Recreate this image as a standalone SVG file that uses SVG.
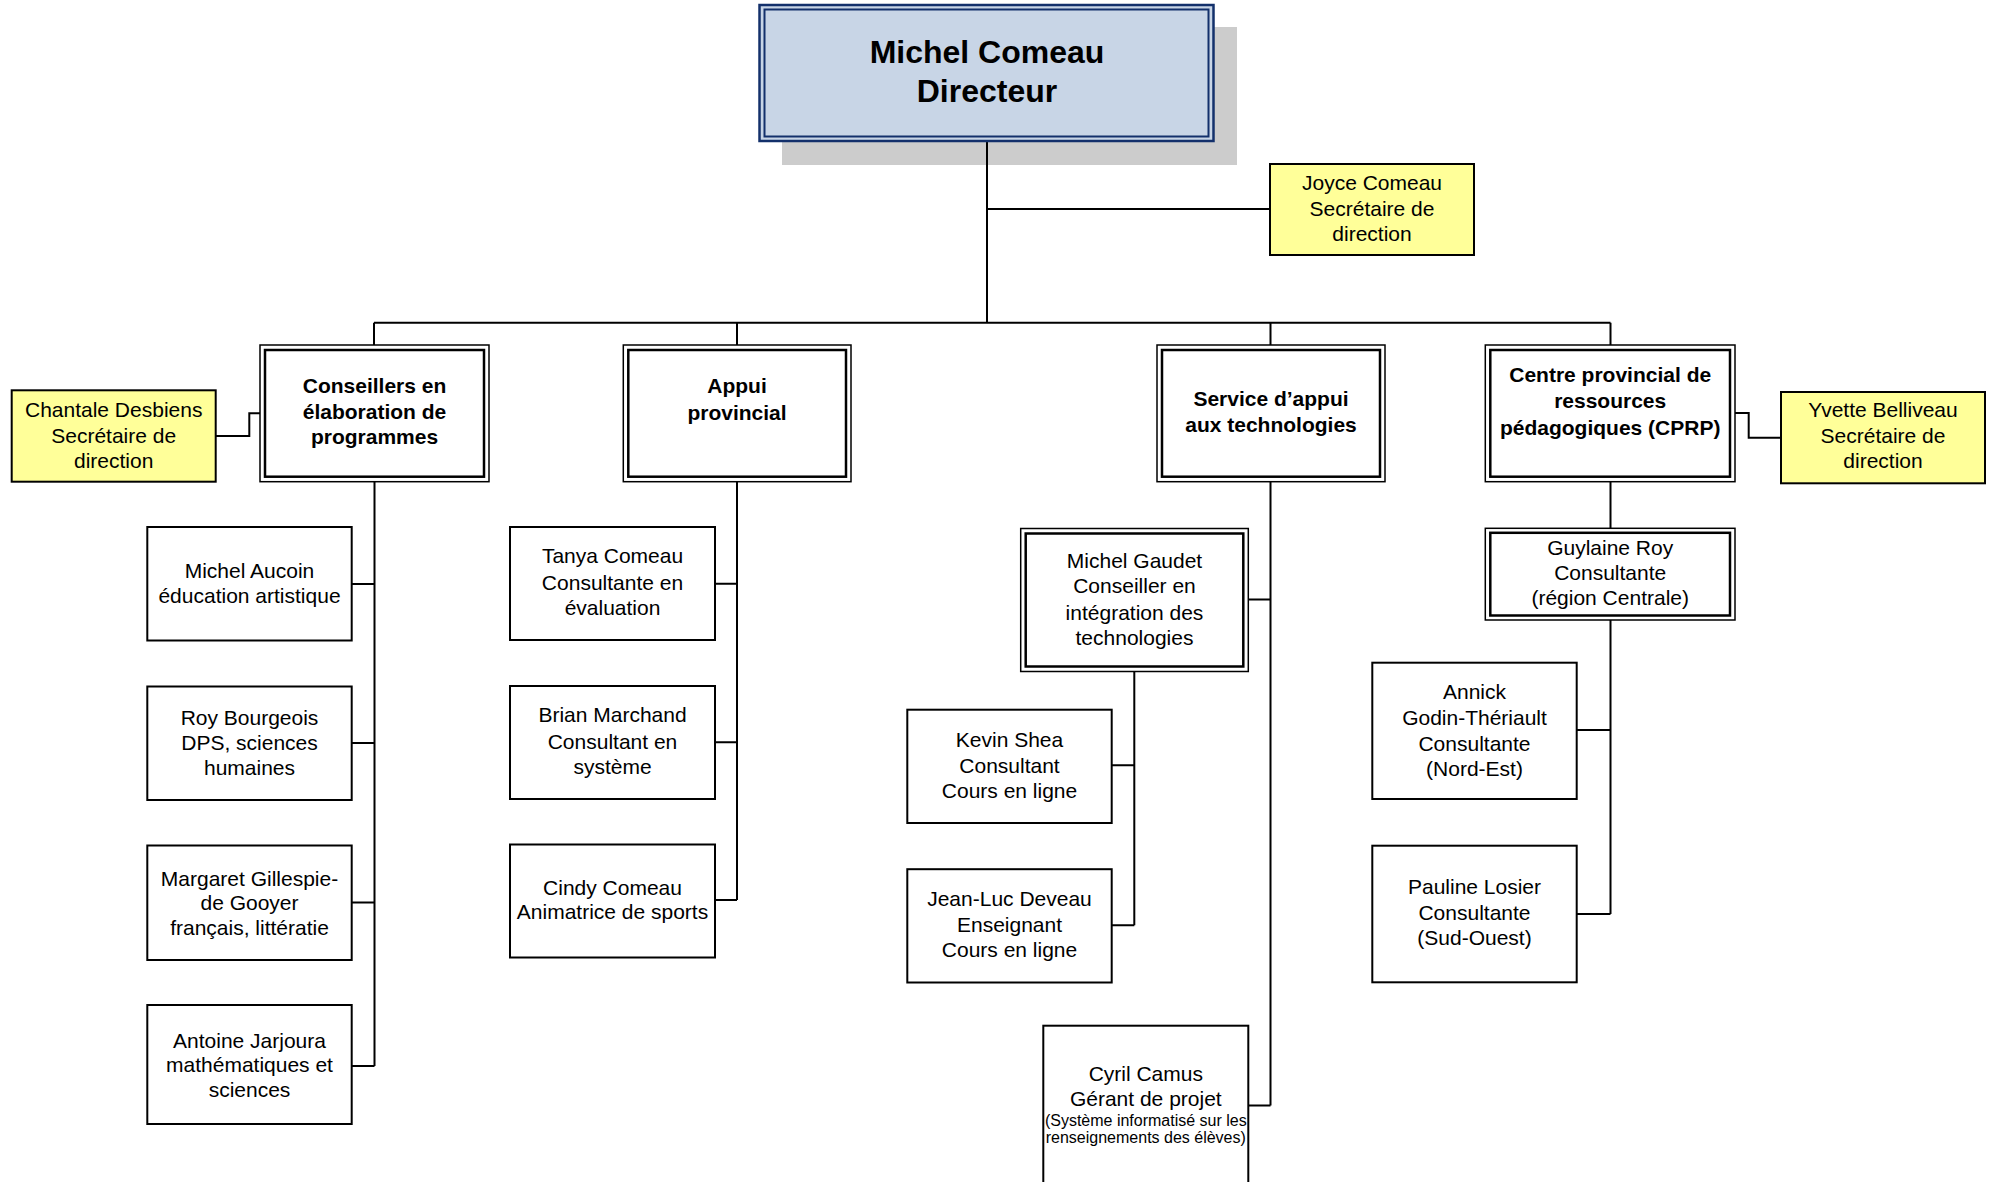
<svg xmlns="http://www.w3.org/2000/svg" width="1989" height="1182" viewBox="0 0 1989 1182">
<style>
text{font-family:"Liberation Sans",Arial,sans-serif;fill:#000;text-anchor:middle}
.t{font-size:21px}
.b{font-size:21px;font-weight:bold}
.s{font-size:16px}
.h{font-size:32px;font-weight:bold}
.box{fill:#fff;stroke:#000;stroke-width:2}
.o{fill:#fff;stroke:#000;stroke-width:1.5}
.i{fill:none;stroke:#000;stroke-width:2.5}
.y{fill:#FFFF99;stroke:#000;stroke-width:2}
.c{fill:none;stroke:#000;stroke-width:2}
</style>
<rect id="shadow" x="782" y="27" width="455" height="138" fill="#CCCCCC"/>
<g id="connectors">
<path class="c" d="M987 141V322.7M987 209H1270M374 322.7H1610.5M374 322.7V345M737 322.7V345M1270.5 322.7V345M1610.5 322.7V345"/>
<path class="c" d="M374.5 481.7V1066M351.7 584H374.5M351.7 743H374.5M351.7 902.5H374.5M351.7 1066H374.5"/>
<path class="c" d="M215.7 436H249.3V413.3H260"/>
<path class="c" d="M737 481.7V900M715 583.7H737M715 742.3H737M715 900H737"/>
<path class="c" d="M1270.5 481.7V1105.5M1248.3 599.4H1270.5M1248.3 1105.5H1270.5"/>
<path class="c" d="M1134.3 671.5V925.3M1111.7 765.3H1134.3M1111.7 925.3H1134.3"/>
<path class="c" d="M1610.5 481.7V528.3M1610.5 620V914M1576.7 730H1610.5M1576.7 914H1610.5"/>
<path class="c" d="M1735 413H1748.7V437.7H1781"/>
</g>
<g id="director">
<rect x="759.5" y="5" width="454" height="136" fill="#C8D5E6" stroke="#13306B" stroke-width="2.5"/>
<rect x="764.5" y="9.5" width="444" height="127" fill="none" stroke="#13306B" stroke-width="2"/>
<text class="h" x="987" y="63">Michel Comeau</text>
<text class="h" x="987" y="101.5">Directeur</text>
</g>
<g id="joyce">
<rect class="y" x="1270" y="164" width="204" height="91"/>
<text class="t" x="1372" y="190">Joyce Comeau</text>
<text class="t" x="1372" y="215.5">Secrétaire de</text>
<text class="t" x="1372" y="241">direction</text>
</g>
<g id="conseillers">
<rect class="o" x="260" y="345" width="229" height="136.7"/>
<rect class="i" x="265" y="350" width="219" height="126.7"/>
<text class="b" x="374.5" y="393.3">Conseillers en</text>
<text class="b" x="374.5" y="419.3">élaboration de</text>
<text class="b" x="374.5" y="444">programmes</text>
</g>
<g id="chantale">
<rect class="y" x="11.7" y="390.3" width="204" height="91.4"/>
<text class="t" x="113.7" y="417.3">Chantale Desbiens</text>
<text class="t" x="113.7" y="442.7">Secrétaire de</text>
<text class="t" x="113.7" y="467.5">direction</text>
</g>
<g id="appui">
<rect class="o" x="623.3" y="345" width="227.7" height="136.7"/>
<rect class="i" x="628.3" y="350" width="217.7" height="126.7"/>
<text class="b" x="737" y="393.3">Appui</text>
<text class="b" x="737" y="420">provincial</text>
</g>
<g id="service">
<rect class="o" x="1157" y="345" width="228" height="136.7"/>
<rect class="i" x="1162" y="350" width="218" height="126.7"/>
<text class="b" x="1271" y="406">Service d’appui</text>
<text class="b" x="1271" y="431.7">aux technologies</text>
</g>
<g id="cprp">
<rect class="o" x="1485.3" y="345" width="249.7" height="136.7"/>
<rect class="i" x="1490.3" y="350" width="239.7" height="126.7"/>
<text class="b" x="1610.2" y="381.7">Centre provincial de</text>
<text class="b" x="1610.2" y="408.3">ressources</text>
<text class="b" x="1610.2" y="435">pédagogiques (CPRP)</text>
</g>
<g id="yvette">
<rect class="y" x="1781" y="392" width="204" height="91.3"/>
<text class="t" x="1883" y="417.3">Yvette Belliveau</text>
<text class="t" x="1883" y="443.3">Secrétaire de</text>
<text class="t" x="1883" y="468.3">direction</text>
</g>
<g id="aucoin">
<rect class="box" x="147.3" y="527" width="204.4" height="113.5"/>
<text class="t" x="249.5" y="578">Michel Aucoin</text>
<text class="t" x="249.5" y="602.6">éducation artistique</text>
</g>
<g id="bourgeois">
<rect class="box" x="147.3" y="686.5" width="204.4" height="113.5"/>
<text class="t" x="249.5" y="724.8">Roy Bourgeois</text>
<text class="t" x="249.5" y="750.3">DPS, sciences</text>
<text class="t" x="249.5" y="774.9">humaines</text>
</g>
<g id="gillespie">
<rect class="box" x="147.3" y="845.5" width="204.4" height="114.5"/>
<text class="t" x="249.5" y="885.6">Margaret Gillespie-</text>
<text class="t" x="249.5" y="910.3">de Gooyer</text>
<text class="t" x="249.5" y="934.9">français, littératie</text>
</g>
<g id="jarjoura">
<rect class="box" x="147.3" y="1005" width="204.4" height="119"/>
<text class="t" x="249.5" y="1047.7">Antoine Jarjoura</text>
<text class="t" x="249.5" y="1072.3">mathématiques et</text>
<text class="t" x="249.5" y="1096.9">sciences</text>
</g>
<g id="tanya">
<rect class="box" x="510" y="527" width="205" height="113"/>
<text class="t" x="612.5" y="563.3">Tanya Comeau</text>
<text class="t" x="612.5" y="589.5">Consultante en</text>
<text class="t" x="612.5" y="615">évaluation</text>
</g>
<g id="brian">
<rect class="box" x="510" y="686" width="205" height="113"/>
<text class="t" x="612.5" y="722.3">Brian Marchand</text>
<text class="t" x="612.5" y="748.5">Consultant en</text>
<text class="t" x="612.5" y="774">système</text>
</g>
<g id="cindy">
<rect class="box" x="510" y="844.5" width="205" height="113"/>
<text class="t" x="612.5" y="895">Cindy Comeau</text>
<text class="t" x="612.5" y="919.3">Animatrice de sports</text>
</g>
<g id="gaudet">
<rect class="o" x="1020.7" y="528.5" width="227.6" height="143"/>
<rect class="i" x="1025.7" y="533.5" width="217.6" height="133"/>
<text class="t" x="1134.5" y="567.5">Michel Gaudet</text>
<text class="t" x="1134.5" y="593">Conseiller en</text>
<text class="t" x="1134.5" y="619.5">intégration des</text>
<text class="t" x="1134.5" y="645">technologies</text>
</g>
<g id="shea">
<rect class="box" x="907.3" y="709.7" width="204.4" height="113.3"/>
<text class="t" x="1009.5" y="747">Kevin Shea</text>
<text class="t" x="1009.5" y="772.5">Consultant</text>
<text class="t" x="1009.5" y="798">Cours en ligne</text>
</g>
<g id="deveau">
<rect class="box" x="907.3" y="869.2" width="204.4" height="113.3"/>
<text class="t" x="1009.5" y="906.2">Jean-Luc Deveau</text>
<text class="t" x="1009.5" y="931.6">Enseignant</text>
<text class="t" x="1009.5" y="957.1">Cours en ligne</text>
</g>
<g id="camus">
<rect class="box" x="1043.3" y="1025.7" width="205" height="200"/>
<text class="t" x="1145.8" y="1081">Cyril Camus</text>
<text class="t" x="1145.8" y="1106">Gérant de projet</text>
<text class="s" x="1145.8" y="1126">(Système informatisé sur les</text>
<text class="s" x="1145.8" y="1142.7">renseignements des élèves)</text>
</g>
<g id="guylaine">
<rect class="o" x="1485.3" y="528.3" width="249.7" height="91.7"/>
<rect class="i" x="1490.3" y="532.8" width="239.7" height="82.7"/>
<text class="t" x="1610.2" y="555">Guylaine Roy</text>
<text class="t" x="1610.2" y="580">Consultante</text>
<text class="t" x="1610.2" y="605">(région Centrale)</text>
</g>
<g id="annick">
<rect class="box" x="1372.3" y="662.7" width="204.4" height="136.3"/>
<text class="t" x="1474.5" y="699.3">Annick</text>
<text class="t" x="1474.5" y="725">Godin-Thériault</text>
<text class="t" x="1474.5" y="750.7">Consultante</text>
<text class="t" x="1474.5" y="776">(Nord-Est)</text>
</g>
<g id="losier">
<rect class="box" x="1372.3" y="845.7" width="204.4" height="136.6"/>
<text class="t" x="1474.5" y="894.3">Pauline Losier</text>
<text class="t" x="1474.5" y="920">Consultante</text>
<text class="t" x="1474.5" y="945">(Sud-Ouest)</text>
</g>
</svg>
